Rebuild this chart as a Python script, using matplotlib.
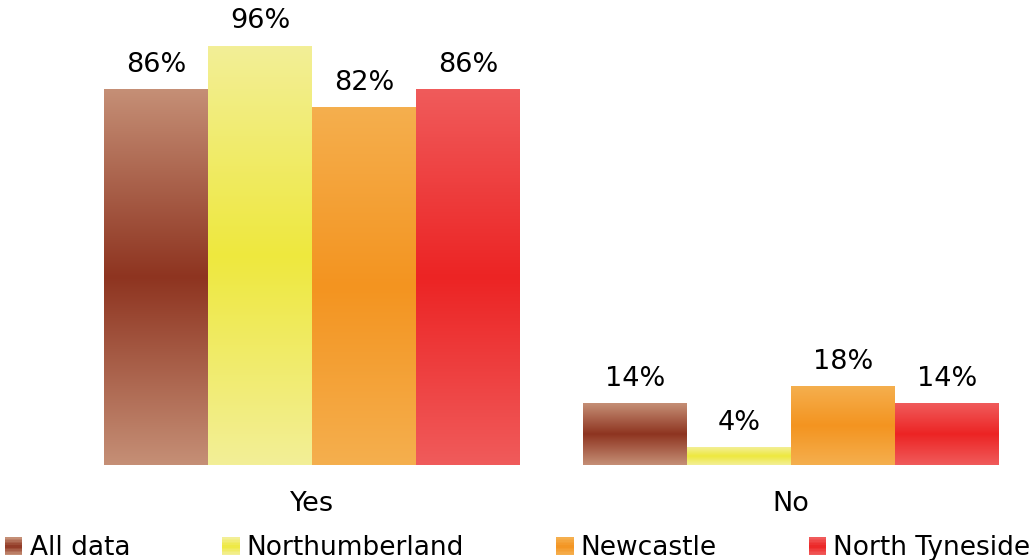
import matplotlib
matplotlib.use('Agg')
import matplotlib.pyplot as plt
import numpy as np
from matplotlib.colors import to_rgb
from matplotlib.patches import Patch, Rectangle
from matplotlib.legend_handler import HandlerBase

categories = ['Yes', 'No']
series = ['All data', 'Northumberland', 'Newcastle', 'North Tyneside']
all_data = [86, 14]
northumberland = [96, 4]
newcastle = [82, 18]
north_tyneside = [86, 14]
values = [all_data, northumberland, newcastle, north_tyneside]

# (light edge, dark centre) for each series
shades = [('#C58F76', '#8E3420'),
          ('#F3EF97', '#EEE83E'),
          ('#F5AF4E', '#F39420'),
          ('#F05B5B', '#EC2424')]

fontsize = 19.5
legend_fontsize = 19


def gradient(light, dark, n=256):
    s = np.linspace(0, 1, n)
    t = 1 - np.abs(2 * s - 1)
    lo, hi = np.array(to_rgb(light)), np.array(to_rgb(dark))
    return lo[None, :] * (1 - t[:, None]) + hi[None, :] * t[:, None]


class GradientHandler(HandlerBase):
    def __init__(self, light, dark):
        super().__init__()
        self.light, self.dark = light, dark

    def create_artists(self, legend, orig_handle, xdescent, ydescent,
                       width, height, fontsize, trans):
        cols = gradient(self.light, self.dark, 12)
        n = len(cols)
        return [Rectangle((-xdescent, -ydescent + i * height / n), width,
                          height / n, facecolor=c, edgecolor='none',
                          transform=trans) for i, c in enumerate(cols)]


fig = plt.figure(figsize=(10.35, 5.6), dpi=100)
ax = fig.add_axes([0, 0.1696, 1, 0.8304])

x = np.arange(len(categories))
width = 0.217
ymax = 106.6

for i, (vals, (light, dark)) in enumerate(zip(values, shades)):
    bars = ax.bar(x + (i - 1.5) * width, vals, width, color='none',
                  edgecolor='none')
    img = gradient(light, dark)[:, None, :]
    for rect, v in zip(bars, vals):
        x0, w, h = rect.get_x(), rect.get_width(), rect.get_height()
        ax.imshow(img, extent=[x0, x0 + w, 0, h], aspect='auto',
                  origin='lower', zorder=2, interpolation='bilinear')
        ax.annotate(f'{v}%', (x0 + w / 2, h), xytext=(0, 8.5),
                    textcoords='offset points', ha='center', va='bottom',
                    fontsize=fontsize, color='black')

ax.set_xlim(-0.651, 1.509)
ax.set_ylim(0, ymax)
ax.set_xticks(x)
ax.set_xticklabels(categories, fontsize=fontsize)
ax.tick_params(axis='x', length=0, pad=19)
ax.set_yticks([])
for sp in ax.spines.values():
    sp.set_visible(False)

handles = [Patch(label=s) for s in series]
hmap = {h: GradientHandler(l, d) for h, (l, d) in zip(handles, shades)}
fig.legend(handles=handles, handler_map=hmap, loc='lower left',
           bbox_to_anchor=(0.0, -0.012), ncol=4, frameon=False,
           fontsize=legend_fontsize, handlelength=0.65, handleheight=0.65,
           handletextpad=0.27, columnspacing=3.5, borderaxespad=0,
           borderpad=0.2)

fig.savefig('out.png', dpi=100)
